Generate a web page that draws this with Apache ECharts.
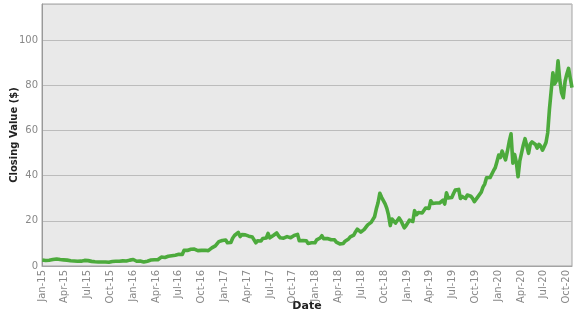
<!DOCTYPE html>
<html>
<head>
<meta charset="utf-8">
<script src="https://cdn.jsdelivr.net/npm/echarts@6/dist/echarts.min.js"></script>
<style>
html,body{margin:0;padding:0;background:#fff;}
#chart{width:577px;height:315px;}
</style>
</head>
<body>
<div id="chart"></div>
<script>
// Weekly closing values (Fridays), first week ending 2015-01-02
var firstFriday = '2015-01-02';
var closes2015 = [2.67,2.58,2.44,2.51,2.57, 2.72,2.86,3.05,3.12, 3.18,2.85,2.78,2.72, 2.70,2.60,2.38,2.30,
  2.30,2.22,2.18,2.12,2.08, 2.15,2.35,2.48,2.40, 2.38,2.20,2.05,1.84,1.87, 1.83,1.78,1.72,1.78,
  1.78,1.75,1.72,1.65, 1.72,1.98,2.05,2.10,2.12, 2.12,2.15,2.28,2.23, 2.22,2.45,2.60,2.88];
var closes2016 = [2.87,2.45,2.10,2.15,2.20, 2.00,1.80,1.98,2.14, 2.40,2.62,2.70,2.80, 2.85,2.75,2.75,3.95,3.60,
  3.80,4.00,4.30,4.60, 4.55,4.60,4.80,5.00, 5.20,5.20,5.10,6.90,6.85, 6.90,7.30,7.40,7.70,
  7.50,6.70,6.80,6.95,6.90, 7.10,7.00,7.20,6.80, 7.10,8.00,8.60,8.90, 8.80,10.80,11.20,11.30,11.34];
var closes2017 = [11.50,10.30,10.40,10.40, 12.30,13.50,13.80,14.90, 13.00,13.90,13.70,13.80,14.55, 13.20,13.30,12.80,13.30,
  10.30,11.20,11.20,11.10, 12.20,11.90,12.40,14.40,12.48, 13.20,13.50,14.20,14.60, 13.40,12.50,12.60,12.30,
  12.90,13.00,12.70,12.50,12.75, 13.50,14.20,14.00,11.20, 11.00,11.30,11.20,11.20, 10.00,10.00,10.30,10.50,10.28];
var closes2018 = [11.55,12.20,12.40,13.40, 12.10,11.50,12.20,12.10, 11.60,11.60,11.60,10.60,10.05, 9.80,9.90,10.00,11.00,
  11.30,12.00,12.90,13.50, 13.70,15.10,16.30,16.00,14.99, 15.30,16.20,15.80,18.20, 18.80,19.30,19.90,21.80,25.20,
  28.00,32.20,30.40,30.89, 27.50,25.50,22.50,17.90, 20.80,21.30,19.00,19.40,21.30, 20.10,19.80,16.90,17.80];
var closes2019 = [19.00,20.30,20.80,19.70, 24.50,22.70,23.70,23.70, 23.50,22.90,25.70,26.20,25.52, 28.90,27.70,27.60,27.90,
  28.20,27.90,27.50,29.10,27.41, 32.40,30.10,30.90,30.37, 32.10,33.60,34.00,33.90, 29.90,30.80,30.00,29.90,31.45,
  30.70,30.90,29.90,28.50, 29.20,30.60,31.30,32.70, 34.90,36.30,39.10,39.80,39.15, 39.10,42.20,43.50,46.20];
var closes2020 = [49.10,48.00,50.90,51.30,47.00, 50.70,55.00,58.50,45.50, 49.40,45.90,39.50,46.40, 46.30,53.50,56.40,55.80,
  49.90,54.00,54.90,54.80,53.80, 52.20,53.90,53.00,51.30, 52.90,54.70,59.00,69.40,77.40, 85.50,80.60,82.00,90.80,
  82.30,76.70,74.50,81.80, 85.00,87.50,83.10,79.00];

var monthNames = ['Jan','Feb','Mar','Apr','May','Jun','Jul','Aug','Sep','Oct','Nov','Dec'];
var yTicks = [0,20,40,60,80,100];

var allCloses = [].concat(closes2015, closes2016, closes2017, closes2018, closes2019, closes2020);

// position on a month-index scale (0 = 1 Jan 2015)
function monthIndex(d){
  var y = d.getUTCFullYear(), m = d.getUTCMonth();
  var dim = new Date(Date.UTC(y, m+1, 0)).getUTCDate();
  return (y-2015)*12 + m + (d.getUTCDate()-1)/dim;
}
var start = new Date(firstFriday + 'T00:00:00Z');
var seriesData = allCloses.map(function(v, i){
  var d = new Date(start.getTime() + i*7*86400000);
  return [monthIndex(d), v];
});
var xMax = seriesData[seriesData.length-1][0];

var chart = echarts.init(document.getElementById('chart'), null, {renderer:'canvas'});
var font = 'DejaVu Sans';
chart.setOption({
  animation:false,
  grid:{left:42, right:5, top:4, bottom:49, containLabel:false, outerBoundsMode:'none',
    show:true, backgroundColor:'#e9e9e9', borderColor:'#a3a3a3', borderWidth:1},
  xAxis:{
    type:'value', min:0, max:xMax, interval:3,
    name:'Date', nameLocation:'middle', nameGap:35, nameMoveOverlap:false,
    nameTextStyle:{fontFamily:font, fontWeight:'bold', fontSize:11, color:'#222'},
    axisLine:{show:true, lineStyle:{color:'#a3a3a3'}},
    axisTick:{show:false},
    splitLine:{show:false},
    axisLabel:{
      rotate:90, margin:4, color:'#888', fontFamily:font, fontSize:10,
      showMaxLabel:false, hideOverlap:false,
      formatter:function(v){
        if (Math.abs(v - Math.round(v)) > 1e-6 || Math.round(v) % 3 !== 0) return '';
        var k = Math.round(v);
        return monthNames[k % 12] + '-' + (15 + Math.floor(k/12));
      }
    }
  },
  yAxis:{
    type:'value', min:0, max:116, interval:20,
    name:'Closing Value ($)', nameLocation:'middle', nameGap:23, nameMoveOverlap:false,
    nameTextStyle:{fontFamily:font, fontWeight:'bold', fontSize:10, color:'#222'},
    axisLine:{show:true, lineStyle:{color:'#999'}},
    axisTick:{show:false},
    splitLine:{show:true, lineStyle:{color:'#bcbcbc', width:1}},
    axisLabel:{
      margin:4, color:'#888', fontFamily:font, fontSize:10,
      formatter:function(v){ return yTicks.indexOf(v) >= 0 ? String(v) : ''; }
    }
  },
  series:[{
    type:'line', data:seriesData, showSymbol:false, symbol:'none',
    lineStyle:{color:'#4caa3c', width:3.6, join:'round'},
    itemStyle:{color:'#4caa3c'}
  }]
});
</script>
</body>
</html>
